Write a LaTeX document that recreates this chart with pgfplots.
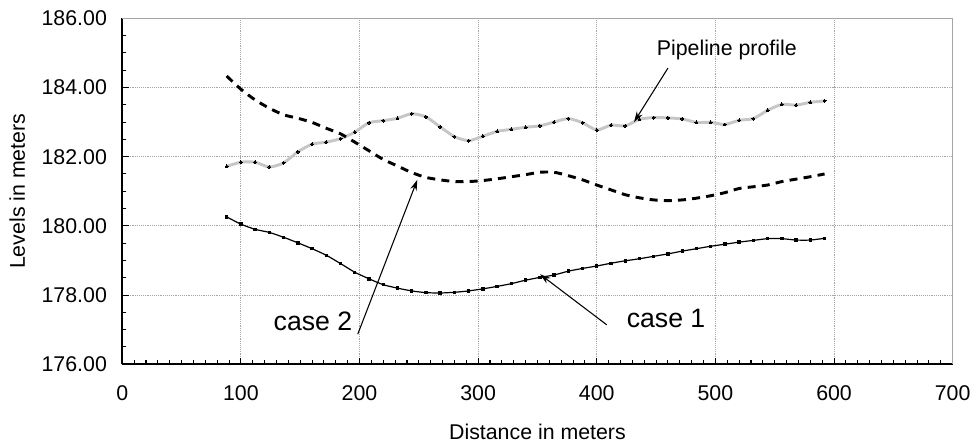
\documentclass[border=0pt]{standalone}
\usepackage{pgfplots}
\pgfplotsset{compat=1.18}
\usepackage{fontspec}
\setmainfont{Liberation Sans}
\usetikzlibrary{arrows.meta}
\begin{document}
\begin{tikzpicture}
\begin{axis}[
  name=ax,
  scale only axis,
  width=622.8pt, height=259.5pt,
  xmin=0, xmax=700, ymin=176, ymax=186,
  xtick={0,100,...,700},
  ytick={176,178,...,186},
  minor x tick num=9,
  minor y tick num=3,
  tick align=inside,
  major tick length=5pt,
  minor tick length=3pt,
  axis lines*=left,
  axis line style={black, line width=1.2pt},
  tick style={black, line width=0.8pt},
  grid=major,
  major grid style={gray!70, densely dotted, line width=0.6pt},
  /pgf/number format/assume math mode=true,
  tick label style={font=\fontsize{16}{19}\selectfont},
  xticklabel style={yshift=-12.5pt},
  yticklabel style={xshift=-8pt, /pgf/number format/.cd, fixed, fixed zerofill, precision=2},
  x tick label style={/pgf/number format/.cd, fixed, precision=0},
  xlabel={Distance in meters},
  ylabel={Levels in meters},
  every axis x label/.style={at={(axis description cs:0.5,-0.195)}, anchor=center, font=\fontsize{16}{19}\selectfont},
  every axis y label/.style={at={(axis description cs:-0.1265,0.5)}, anchor=center, rotate=90, font=\fontsize{16}{19}\selectfont},
  clip=false,
]
\draw[gray!70, line width=0.6pt] (rel axis cs:0,1) -- (rel axis cs:1,1) -- (rel axis cs:1,0);
% Pipeline profile
\addplot[gray!45, line width=2.2pt, smooth, tension=0.4, mark=*, mark size=1.1pt, mark options={black, fill=black, line width=0pt}] coordinates {
(88,181.72)(100,181.84)(112,181.84)(124,181.70)(136,181.82)(148,182.14)(160,182.36)(172,182.42)
(184,182.52)(196,182.71)(208,182.98)(220,183.04)(232,183.11)(244,183.24)(256,183.15)(268,182.86)
(280,182.58)(292,182.46)(304,182.59)(316,182.73)(328,182.79)(340,182.85)(352,182.89)(364,183.00)
(376,183.10)(388,182.98)(400,182.77)(412,182.91)(424,182.89)(436,183.08)(448,183.13)(460,183.12)
(472,183.09)(484,182.99)(496,182.99)(508,182.93)(520,183.05)(532,183.10)(544,183.34)(556,183.51)
(568,183.49)(580,183.57)(592,183.61)};
% case 1
\addplot[black, line width=0.9pt, smooth, tension=0.4, mark=square*, mark size=0.9pt, mark options={black, fill=black, line width=0pt}] coordinates {
(88,180.26)(100,180.05)(112,179.90)(124,179.81)(136,179.67)(148,179.51)(160,179.34)(172,179.15)
(184,178.91)(196,178.66)(208,178.47)(220,178.30)(232,178.20)(244,178.12)(256,178.07)(268,178.06)
(280,178.08)(292,178.12)(304,178.18)(316,178.25)(328,178.33)(340,178.43)(352,178.51)(364,178.58)
(376,178.69)(388,178.77)(400,178.84)(412,178.92)(424,178.99)(436,179.05)(448,179.12)(460,179.19)
(472,179.27)(484,179.34)(496,179.41)(508,179.47)(520,179.53)(532,179.58)(544,179.63)(556,179.63)
(568,179.59)(580,179.59)(592,179.64)};
% case 2
\addplot[black, line width=2.2pt, smooth, tension=0.4, dash pattern=on 6pt off 4.65pt] coordinates {
(88,184.33)(100,183.95)(112,183.64)(124,183.40)(136,183.21)(148,183.11)(160,182.99)(172,182.82)
(184,182.66)(196,182.42)(208,182.17)(220,181.92)(232,181.73)(244,181.54)(256,181.40)(268,181.33)
(280,181.28)(292,181.28)(304,181.31)(316,181.36)(328,181.42)(340,181.48)(352,181.55)(364,181.55)
(376,181.45)(388,181.33)(400,181.18)(412,181.04)(424,180.90)(436,180.81)(448,180.75)(460,180.73)
(472,180.75)(484,180.80)(496,180.87)(508,180.96)(520,181.08)(532,181.13)(544,181.18)(556,181.28)
(568,181.35)(580,181.42)(592,181.50)};
% annotations
\node[font=\fontsize{16}{19}\selectfont] at (axis cs:509.6,185.08) {Pipeline profile};
\draw[black, line width=0.8pt, -{Stealth[length=8pt,width=5pt]}] (axis cs:460,184.56) -- (axis cs:431.4,183.0);
\node[font=\fontsize{20}{24}\selectfont] at (axis cs:160.8,177.23) {case 2};
\draw[black, line width=0.8pt, -{Stealth[length=8pt,width=5pt]}] (axis cs:198.5,176.87) -- (axis cs:248.7,181.33);
\node[font=\fontsize{20}{24}\selectfont] at (axis cs:458.4,177.33) {case 1};
\draw[black, line width=0.8pt, -{Stealth[length=8pt,width=5pt]}] (axis cs:408.4,177.14) -- (axis cs:352.2,178.60);
\end{axis}
\pgfresetboundingbox
\path ([xshift=-91.7pt, yshift=-62.8pt]ax.south west) rectangle ([xshift=17.5pt, yshift=13.7pt]ax.north east);
\end{tikzpicture}
\end{document}
